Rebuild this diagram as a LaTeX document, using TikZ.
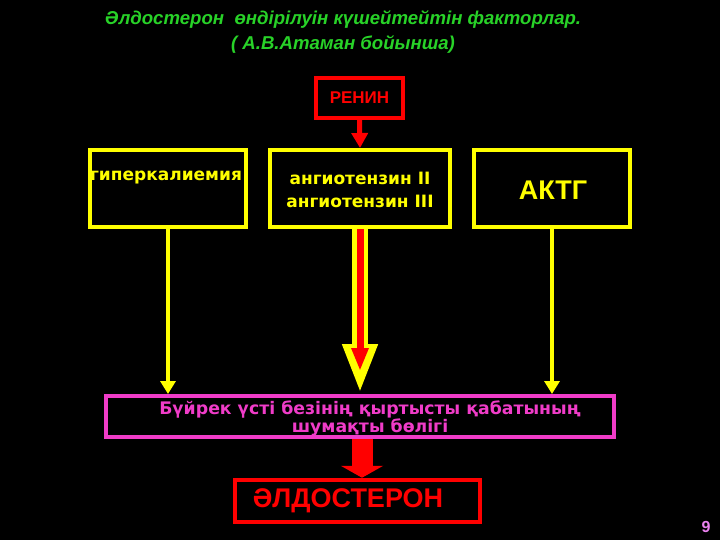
\documentclass[tikz,border=0pt]{standalone}
\usepackage{fontspec}
\setmainfont{Liberation Sans}
\newfontfamily\dvs{DejaVu Sans}
\usetikzlibrary{arrows.meta}
\definecolor{tgreen}{RGB}{40,210,40}
\definecolor{myyel}{RGB}{255,255,0}
\definecolor{myred}{RGB}{255,0,0}
\definecolor{mymag}{RGB}{240,60,200}
\definecolor{pgnum}{RGB}{235,130,240}
\tikzset{
  ybox/.style={draw=myyel, line width=4pt, minimum width=156pt, minimum height=77pt, inner sep=0pt},
  ytext/.style={text=myyel, font=\dvs\bfseries\fontsize{17}{23}\selectfont, align=center, inner sep=0pt},
  yarrow/.style={draw=myyel, line width=4.5pt, -{Triangle[width=15pt,length=13pt]}},
}
\begin{document}
\begin{tikzpicture}[x=1pt,y=-1pt]
\fill[black] (0,0) rectangle (720,540);
\useasboundingbox (0,0) rectangle (720,540);
% title
\node[text=tgreen, font=\bfseries\itshape\fontsize{18.6}{25}\selectfont, align=center] (title) at (343,32)
  {Әлдостерон\ \ өндірілуін күшейтейтін факторлар.\\( А.В.Атаман бойынша)};
% renin
\node[draw=myred, line width=4pt, minimum width=87pt, minimum height=40pt, text=myred,
  font=\bfseries\fontsize{17}{18}\selectfont, inner sep=0pt] (renin) at (359.5,98) {РЕНИН};
% yellow boxes
\node[ybox] (b1) at (168,188.5) {};
\node[ytext] (t1) at (166,178) {гиперкалиемия};
\node[ybox, minimum width=180pt] (b2) at (360,188.5) {};
\node[ytext] (t2) at (360,190) {ангиотензин II\\ангиотензин III};
\node[ybox] (b3) at (552,188.5) {};
\node[text=myyel, font=\bfseries\fontsize{27}{30}\selectfont] (t3) at (553,190) {АКТГ};
% magenta box
\node[draw=mymag, line width=4pt, minimum width=508pt, minimum height=41pt, inner sep=0pt] (mag) at (360,416.5) {};
\node[text=mymag, font=\dvs\bfseries\fontsize{17.3}{18}\selectfont, align=center, inner sep=0pt] (magt) at (370,419)
  {Бүйрек үсті безінің қыртысты қабатының\\шумақты бөлігі};
% aldosterone
\node[draw=myred, line width=4.5pt, minimum width=245pt, minimum height=42pt, inner sep=0pt] (ald) at (357.5,501) {};
\node[text=myred, font=\bfseries\fontsize{27}{30}\selectfont, inner sep=0pt] (aldt) at (348,501) {ӘЛДОСТЕРОН};
% page number
\node[text=pgnum, font=\bfseries\fontsize{16}{18}\selectfont, inner sep=0pt] (pg) at (706,527) {9};
% arrows
\draw[draw=myred, line width=5pt, -{Triangle[width=16pt,length=15pt]}] (renin.south) -- (b2.north);
\draw[yarrow] (b1.south) -- (b1.south |- mag.north);
\draw[yarrow] (b3.south) -- (b3.south |- mag.north);
\coordinate (redtip) at (360,371);
\draw[draw=myyel, line width=16pt, -{Triangle[width=32pt,length=50pt]}] (b2.south) -- (mag.north);
\draw[draw=myred, line width=7pt, -{Triangle[width=16pt,length=23pt]}] (b2.south) -- (redtip);
\draw[draw=myred, line width=21pt, -{Triangle[width=42pt,length=12pt]}] ([xshift=2pt]mag.south) -- ([xshift=2pt]mag.south |- ald.north);
\end{tikzpicture}
\end{document}
